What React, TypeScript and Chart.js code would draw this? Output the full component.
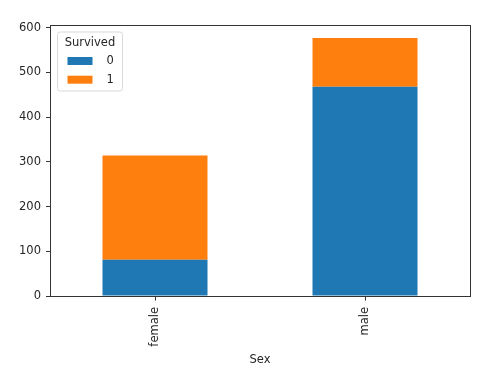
import React, { useEffect, useRef } from "react";
import { Chart, registerables } from "chart.js";

Chart.register(...registerables);

const categories = ["female", "male"];
const died = [81, 468];
const survived = [233, 109];
const seriesLabels = ["0", "1"];
const seriesColors = ["#1f77b4", "#ff7f0e"];
const yTicks = [0, 100, 200, 300, 400, 500, 600];
const yMax = 605.85;
const xTitle = "Sex";
const legendTitle = "Survived";

const FONT = "'DejaVu Sans', sans-serif";
const FS = 11.5;
const TXT = "#262626";
const AX = "#333333";

const framePlugin = {
  id: "frame",
  afterDraw(chart: any) {
    const { ctx, chartArea } = chart;
    const { left, top, right, bottom } = chartArea;
    ctx.save();
    ctx.strokeStyle = AX;
    ctx.lineWidth = 1;
    ctx.strokeRect(Math.round(left) + 0.5, Math.round(top) + 0.5, Math.round(right - left), Math.round(bottom - top));
    // x tick marks at category centres
    const xs = chart.scales.x;
    categories.forEach((_, i) => {
      const px = Math.round(xs.getPixelForValue(i)) + 0.5;
      ctx.beginPath();
      ctx.moveTo(px, Math.round(bottom) + 0.5);
      ctx.lineTo(px, Math.round(bottom) + 4.5);
      ctx.stroke();
    });
    // legend
    const lx = left + 7.5, ly = top + 7, lw = 65, lh = 59;
    ctx.beginPath();
    const r = 2.5;
    ctx.moveTo(lx + r, ly);
    ctx.lineTo(lx + lw - r, ly);
    ctx.quadraticCurveTo(lx + lw, ly, lx + lw, ly + r);
    ctx.lineTo(lx + lw, ly + lh - r);
    ctx.quadraticCurveTo(lx + lw, ly + lh, lx + lw - r, ly + lh);
    ctx.lineTo(lx + r, ly + lh);
    ctx.quadraticCurveTo(lx, ly + lh, lx, ly + lh - r);
    ctx.lineTo(lx, ly + r);
    ctx.quadraticCurveTo(lx, ly, lx + r, ly);
    ctx.closePath();
    ctx.fillStyle = "rgba(255,255,255,0.8)";
    ctx.fill();
    ctx.strokeStyle = "#d9d9d9";
    ctx.stroke();
    ctx.font = `${FS}px ${FONT}`;
    ctx.fillStyle = TXT;
    ctx.textAlign = "center";
    ctx.textBaseline = "middle";
    ctx.fillText(legendTitle, lx + lw / 2, ly + 11);
    ctx.textAlign = "left";
    seriesLabels.forEach((lab, i) => {
      const cy = ly + 29 + i * 18.7;
      ctx.fillStyle = seriesColors[i];
      ctx.fillRect(lx + 10, cy - 4, 25, 8);
      ctx.fillStyle = TXT;
      ctx.fillText(lab, lx + 49, cy + 0.5);
    });
    ctx.restore();
  },
};

export default function App() {
  const ref = useRef<HTMLCanvasElement>(null);
  useEffect(() => {
    if (!ref.current) return;
    const chart = new Chart(ref.current, {
      type: "bar",
      data: {
        labels: categories,
        datasets: [
          { label: seriesLabels[0], data: died, backgroundColor: seriesColors[0], categoryPercentage: 1, barPercentage: 0.5 },
          { label: seriesLabels[1], data: survived, backgroundColor: seriesColors[1], categoryPercentage: 1, barPercentage: 0.5 },
        ],
      },
      options: {
        animation: false,
        responsive: false,
        maintainAspectRatio: false,
        layout: { padding: { left: 0, top: 25, right: 28, bottom: 18 } },
        plugins: { legend: { display: false }, tooltip: { enabled: false } },
        scales: {
          x: {
            stacked: true,
            offset: true,
            grid: { display: false, drawTicks: false },
            border: { display: false },
            ticks: { color: TXT, font: { family: FONT, size: FS }, minRotation: 90, maxRotation: 90, padding: 11 },
            title: { display: true, text: xTitle, color: TXT, font: { family: FONT, size: FS }, padding: { top: 0, bottom: 0 } },
            afterFit: (s: any) => { s.height = 385 - 296 - 18; },
          },
          y: {
            stacked: true,
            min: 0,
            max: yMax,
            grid: { display: true, drawOnChartArea: false, drawTicks: true, tickLength: 4, color: AX },
            border: { display: false },
            ticks: { color: TXT, font: { family: FONT, size: FS }, padding: 5 },
            afterBuildTicks: (s: any) => { s.ticks = yTicks.map((v) => ({ value: v })); },
            afterFit: (s: any) => { s.width = 50; },
          },
        },
      },
      plugins: [framePlugin],
    });
    return () => chart.destroy();
  }, []);
  return (
    <div style={{ position: "fixed", left: 0, top: 0, width: 498, height: 385, background: "#fff" }}>
      <canvas ref={ref} width={498} height={385} style={{ display: "block" }} />
    </div>
  );
}
